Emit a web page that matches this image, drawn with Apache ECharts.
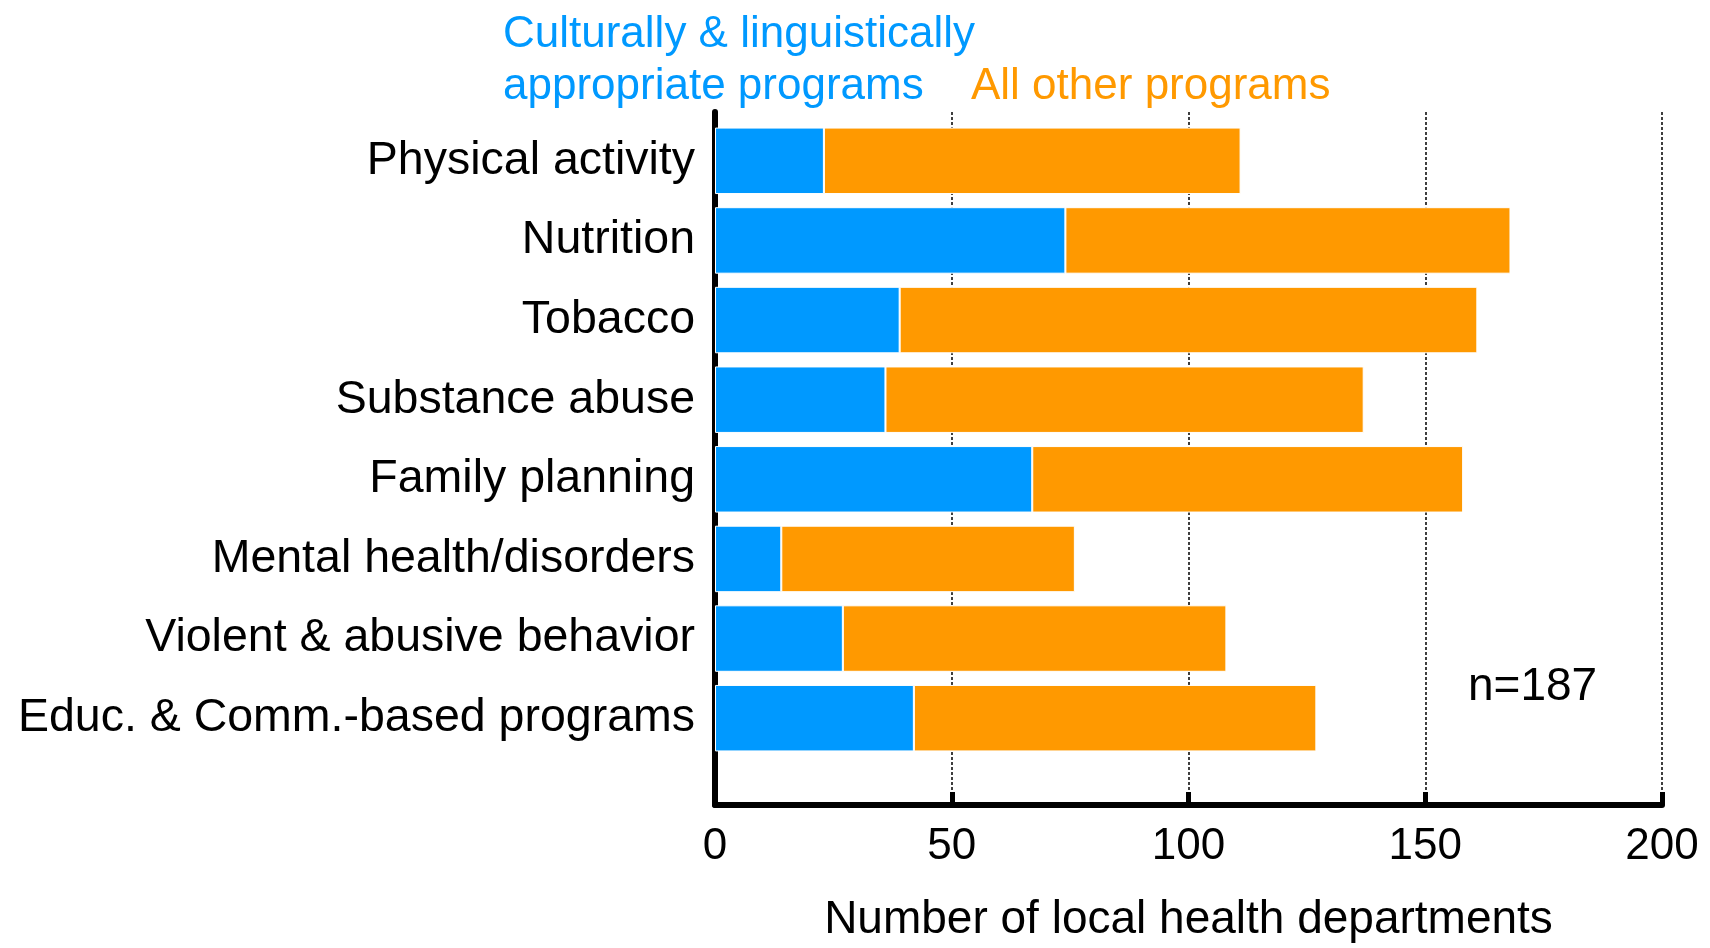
<!DOCTYPE html>
<html>
<head>
<meta charset="utf-8">
<script src="https://cdn.jsdelivr.net/npm/echarts@6/dist/echarts.min.js"></script>
<style>
    html, body { margin: 0; padding: 0; background: #fff; }
    #chart { width: 1710px; height: 948px; }
</style>
</head>
<body>
<div id="chart"></div>
<script>
// categories top to bottom
var categories = [
    'Physical activity',
    'Nutrition',
    'Tobacco',
    'Substance abuse',
    'Family planning',
    'Mental health/disorders',
    'Violent & abusive behavior',
    'Educ. & Comm.-based programs'
];
// culturally & linguistically appropriate programs
var culturalValues = [23, 74, 39, 36, 67, 14, 27, 42];
// all other programs (stacked on top)
var otherValues = [88, 94, 122, 101, 91, 62, 81, 85];
var xTicks = [0, 50, 100, 150, 200];

var FONT = 'Liberation Sans, Arial, sans-serif';
var BLUE = '#0099ff';
var ORANGE = '#ff9900';

var myChart = echarts.init(document.getElementById('chart'));

var option = {
    backgroundColor: '#fff',
    animation: false,
    title: [
        {
            text: 'Culturally & linguistically\nappropriate programs',
            left: 498, top: 4,
            textStyle: { color: BLUE, fontFamily: FONT, fontSize: 44, fontWeight: 'normal', lineHeight: 52 }
        },
        {
            text: 'All other programs',
            left: 966, top: 56,
            textStyle: { color: ORANGE, fontFamily: FONT, fontSize: 44, fontWeight: 'normal', lineHeight: 52 }
        }
    ],
    graphic: [
        {
            type: 'text',
            left: 1468, top: 664,
            style: { text: 'n=187', fill: '#000', font: '46px ' + FONT }
        }
    ],
    grid: [
        // bars
        { left: 715, right: 48, top: 121, height: 637 },
        // frame, ticks, gridlines
        { left: 715, right: 48, top: 112, bottom: 140 }
    ],
    xAxis: [
        { gridIndex: 0, type: 'value', min: 0, max: 200, show: false },
        {
            gridIndex: 1, type: 'value', min: xTicks[0], max: xTicks[xTicks.length - 1], interval: 50,
            axisLine: { show: true, lineStyle: { color: '#000', width: 6 } },
            axisTick: { show: true, inside: true, length: 13, lineStyle: { color: '#000', width: 5 } },
            axisLabel: { color: '#000', fontFamily: FONT, fontSize: 44, margin: 20 },
            splitLine: { show: true, lineStyle: { color: '#000', width: 1.5, type: [3, 2] } },
            name: 'Number of local health departments',
            nameLocation: 'middle',
            nameGap: 92,
            nameTextStyle: { color: '#000', fontFamily: FONT, fontSize: 46 }
        }
    ],
    yAxis: [
        {
            gridIndex: 0, type: 'category', data: categories, inverse: true,
            axisLine: { show: false },
            axisTick: { show: false },
            axisLabel: { color: '#000', fontFamily: FONT, fontSize: 46.5, margin: 20, padding: [5, 0, 0, 0] }
        },
        {
            gridIndex: 1, type: 'value', min: 0, max: 1,
            axisLine: { show: true, lineStyle: { color: '#000', width: 6 } },
            axisTick: { show: false },
            axisLabel: { show: false },
            splitLine: { show: false }
        }
    ],
    series: [
        {
            name: 'Culturally & linguistically appropriate programs',
            type: 'bar', stack: 'total',
            xAxisIndex: 0, yAxisIndex: 0,
            barCategoryGap: '16.5%',
            data: culturalValues,
            itemStyle: { color: BLUE, borderColor: '#fff', borderWidth: 1 }
        },
        {
            name: 'All other programs',
            type: 'bar', stack: 'total',
            xAxisIndex: 0, yAxisIndex: 0,
            barCategoryGap: '16.5%',
            data: otherValues,
            itemStyle: { color: ORANGE, borderColor: '#fff', borderWidth: 1 }
        }
    ]
};

myChart.setOption(option);
</script>
</body>
</html>
